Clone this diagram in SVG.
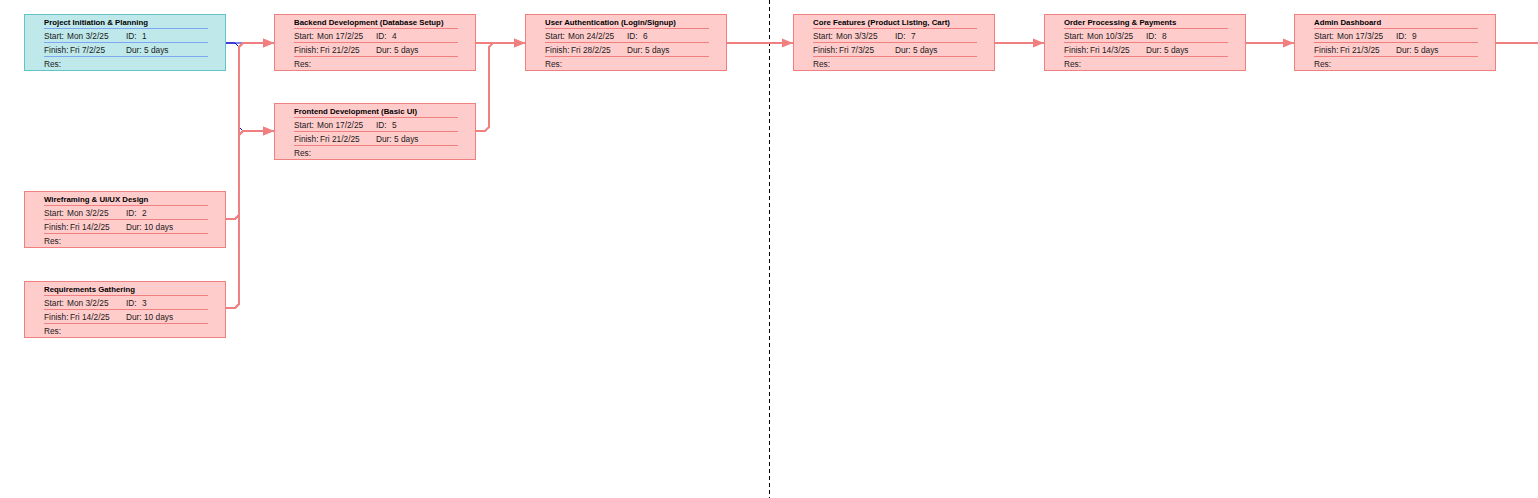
<svg xmlns="http://www.w3.org/2000/svg" width="1538" height="498" viewBox="0 0 1538 498">
<style>
.pk{fill:#FFCCCC;stroke:#F08080;stroke-width:1}
.tl{fill:#BEE8EA;stroke:#63C4C8;stroke-width:1}
.sp{fill:none;stroke:#F08080;stroke-width:1}
.spt{fill:none;stroke:#7EA6F2;stroke-width:1}
.tt{font-family:"Liberation Sans",Arial,sans-serif;font-size:7.8px;font-weight:bold;fill:#000}
.tr{font-family:"Liberation Sans",Arial,sans-serif;font-size:8.3px;fill:#1a1a1a}
.cn{fill:none;stroke:#F08080;stroke-width:2}
.ar{marker-end:url(#ah)}
.bl{fill:none;stroke:#0000C8;stroke-width:1}
.dash{stroke:#000;stroke-width:1;stroke-dasharray:4 3}
</style>
<defs>
<marker id="ah" markerUnits="userSpaceOnUse" markerWidth="11" markerHeight="10" refX="11" refY="5" orient="auto">
<path d="M0,0.5 L11,5 L0,9.5 Z" fill="#F08080"/>
</marker>
</defs>
<rect width="1538" height="498" fill="#fff"/>
<line class="dash" x1="769.5" y1="0" x2="769.5" y2="498"/>
<g id="connectors">
<path class="bl" d="M226,43 H274 M226,43 H235 L239,47 V127 L243,131 H262"/>
<path class="cn ar" d="M226,219 H235 L239,215 V47 L243,43 H274"/>
<path class="cn ar" d="M226,308 H235 L239,304 V47 L243,43 H274"/>
<path class="cn ar" d="M226,219 H235 L239,215 V135 L243,131 H274"/>
<path class="cn ar" d="M226,308 H235 L239,304 V135 L243,131 H274"/>
<path class="cn ar" d="M476,43 H525"/>
<path class="cn ar" d="M476,131 H485 L489,127 V47 L493,43 H525"/>
<path class="cn ar" d="M727,43 H793"/>
<path class="cn ar" d="M995,43 H1044"/>
<path class="cn ar" d="M1246,43 H1294"/>
<path class="cn" d="M1496,43 H1538"/>
</g>
<g id="node1" transform="translate(24,14)">
<rect class="tl" x="0.5" y="0.5" width="201" height="56"/>
<path class="spt" d="M20 14.5H184M20 28.5H184M20 42.5H184"/>
<text class="tt" x="20" y="11">Project Initiation &amp; Planning</text>
<text class="tr" y="25"><tspan x="20">Start: </tspan><tspan x="43">Mon 3/2/25</tspan><tspan x="102">ID: </tspan><tspan x="118">1</tspan></text>
<text class="tr" y="39"><tspan x="20">Finish: </tspan><tspan x="46">Fri 7/2/25</tspan><tspan x="102">Dur: </tspan><tspan x="120">5 days</tspan></text>
<text class="tr" x="20" y="53">Res:</text>
</g>
<g id="node2" transform="translate(24,191)">
<rect class="pk" x="0.5" y="0.5" width="201" height="56"/>
<path class="sp" d="M20 14.5H184M20 28.5H184M20 42.5H184"/>
<text class="tt" x="20" y="11">Wireframing &amp; UI/UX Design</text>
<text class="tr" y="25"><tspan x="20">Start: </tspan><tspan x="43">Mon 3/2/25</tspan><tspan x="102">ID: </tspan><tspan x="118">2</tspan></text>
<text class="tr" y="39"><tspan x="20">Finish: </tspan><tspan x="46">Fri 14/2/25</tspan><tspan x="102">Dur: </tspan><tspan x="120">10 days</tspan></text>
<text class="tr" x="20" y="53">Res:</text>
</g>
<g id="node3" transform="translate(24,281)">
<rect class="pk" x="0.5" y="0.5" width="201" height="56"/>
<path class="sp" d="M20 14.5H184M20 28.5H184M20 42.5H184"/>
<text class="tt" x="20" y="11">Requirements Gathering</text>
<text class="tr" y="25"><tspan x="20">Start: </tspan><tspan x="43">Mon 3/2/25</tspan><tspan x="102">ID: </tspan><tspan x="118">3</tspan></text>
<text class="tr" y="39"><tspan x="20">Finish: </tspan><tspan x="46">Fri 14/2/25</tspan><tspan x="102">Dur: </tspan><tspan x="120">10 days</tspan></text>
<text class="tr" x="20" y="53">Res:</text>
</g>
<g id="node4" transform="translate(274,14)">
<rect class="pk" x="0.5" y="0.5" width="201" height="56"/>
<path class="sp" d="M20 14.5H184M20 28.5H184M20 42.5H184"/>
<text class="tt" x="20" y="11">Backend Development (Database Setup)</text>
<text class="tr" y="25"><tspan x="20">Start: </tspan><tspan x="43">Mon 17/2/25</tspan><tspan x="102">ID: </tspan><tspan x="118">4</tspan></text>
<text class="tr" y="39"><tspan x="20">Finish: </tspan><tspan x="46">Fri 21/2/25</tspan><tspan x="102">Dur: </tspan><tspan x="120">5 days</tspan></text>
<text class="tr" x="20" y="53">Res:</text>
</g>
<g id="node5" transform="translate(274,103)">
<rect class="pk" x="0.5" y="0.5" width="201" height="56"/>
<path class="sp" d="M20 14.5H184M20 28.5H184M20 42.5H184"/>
<text class="tt" x="20" y="11">Frontend Development (Basic UI)</text>
<text class="tr" y="25"><tspan x="20">Start: </tspan><tspan x="43">Mon 17/2/25</tspan><tspan x="102">ID: </tspan><tspan x="118">5</tspan></text>
<text class="tr" y="39"><tspan x="20">Finish: </tspan><tspan x="46">Fri 21/2/25</tspan><tspan x="102">Dur: </tspan><tspan x="120">5 days</tspan></text>
<text class="tr" x="20" y="53">Res:</text>
</g>
<g id="node6" transform="translate(525,14)">
<rect class="pk" x="0.5" y="0.5" width="201" height="56"/>
<path class="sp" d="M20 14.5H184M20 28.5H184M20 42.5H184"/>
<text class="tt" x="20" y="11">User Authentication (Login/Signup)</text>
<text class="tr" y="25"><tspan x="20">Start: </tspan><tspan x="43">Mon 24/2/25</tspan><tspan x="102">ID: </tspan><tspan x="118">6</tspan></text>
<text class="tr" y="39"><tspan x="20">Finish: </tspan><tspan x="46">Fri 28/2/25</tspan><tspan x="102">Dur: </tspan><tspan x="120">5 days</tspan></text>
<text class="tr" x="20" y="53">Res:</text>
</g>
<g id="node7" transform="translate(793,14)">
<rect class="pk" x="0.5" y="0.5" width="201" height="56"/>
<path class="sp" d="M20 14.5H184M20 28.5H184M20 42.5H184"/>
<text class="tt" x="20" y="11">Core Features (Product Listing, Cart)</text>
<text class="tr" y="25"><tspan x="20">Start: </tspan><tspan x="43">Mon 3/3/25</tspan><tspan x="102">ID: </tspan><tspan x="118">7</tspan></text>
<text class="tr" y="39"><tspan x="20">Finish: </tspan><tspan x="46">Fri 7/3/25</tspan><tspan x="102">Dur: </tspan><tspan x="120">5 days</tspan></text>
<text class="tr" x="20" y="53">Res:</text>
</g>
<g id="node8" transform="translate(1044,14)">
<rect class="pk" x="0.5" y="0.5" width="201" height="56"/>
<path class="sp" d="M20 14.5H184M20 28.5H184M20 42.5H184"/>
<text class="tt" x="20" y="11">Order Processing &amp; Payments</text>
<text class="tr" y="25"><tspan x="20">Start: </tspan><tspan x="43">Mon 10/3/25</tspan><tspan x="102">ID: </tspan><tspan x="118">8</tspan></text>
<text class="tr" y="39"><tspan x="20">Finish: </tspan><tspan x="46">Fri 14/3/25</tspan><tspan x="102">Dur: </tspan><tspan x="120">5 days</tspan></text>
<text class="tr" x="20" y="53">Res:</text>
</g>
<g id="node9" transform="translate(1294,14)">
<rect class="pk" x="0.5" y="0.5" width="201" height="56"/>
<path class="sp" d="M20 14.5H184M20 28.5H184M20 42.5H184"/>
<text class="tt" x="20" y="11">Admin Dashboard</text>
<text class="tr" y="25"><tspan x="20">Start: </tspan><tspan x="43">Mon 17/3/25</tspan><tspan x="102">ID: </tspan><tspan x="118">9</tspan></text>
<text class="tr" y="39"><tspan x="20">Finish: </tspan><tspan x="46">Fri 21/3/25</tspan><tspan x="102">Dur: </tspan><tspan x="120">5 days</tspan></text>
<text class="tr" x="20" y="53">Res:</text>
</g>
</svg>
